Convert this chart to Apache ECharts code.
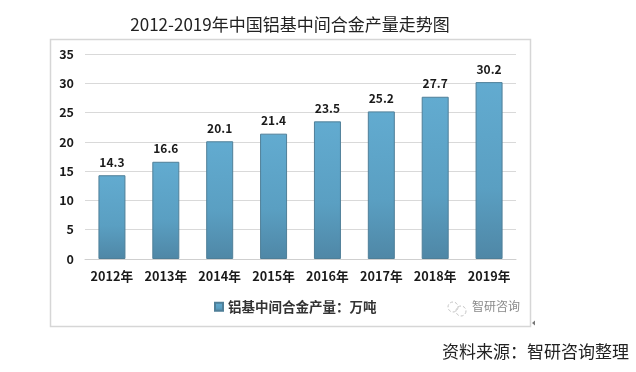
<!DOCTYPE html>
<html><head><meta charset="utf-8">
<style>html,body{margin:0;padding:0;background:#fff}#c{width:636px;height:372px}</style>
<script src="https://cdn.jsdelivr.net/npm/echarts@6/dist/echarts.min.js"></script>
</head><body><div id="c"></div>
<script>
const categories=['2012年','2013年','2014年','2015年','2016年','2017年','2018年','2019年'];
const values=[14.3,16.6,20.1,21.4,23.5,25.2,27.7,30.2];
const yTicks={min:0,max:35,interval:5};
const seriesName='铝基中间合金产量：万吨';
const titleText='2012-2019年中国铝基中间合金产量走势图';
const sourceText='资料来源：智研咨询整理';
const watermarkText='智研咨询';
const FONT='"Noto Sans CJK SC","DejaVu Sans",sans-serif';
const chart=echarts.init(document.getElementById('c'),null,{renderer:'canvas'});
chart.setOption({
 animation:false,backgroundColor:'#fff',
 title:[{text:titleText,left:285,top:11,textAlign:'center',textStyle:{fontFamily:FONT,fontSize:17,fontWeight:'normal',color:'#222'}},
        {text:sourceText,left:437,top:338,textStyle:{fontFamily:FONT,fontSize:17,fontWeight:'normal',color:'#222'}}],
 graphic:[
  {type:'rect',z:-1,shape:{x:50.5,y:39.5,width:480,height:287},style:{fill:'#fff',stroke:'#d6d6d6',lineWidth:1.5}},
  {type:'text',left:472,top:300,style:{text:watermarkText,fontFamily:FONT,fontSize:12,fill:'#8a8a8a'}},
  {type:'circle',shape:{cx:453,cy:307,r:5},style:{fill:'none',stroke:'#c4c4c4',lineWidth:1,lineDash:[3,2]}},
  {type:'circle',shape:{cx:461,cy:311,r:5},style:{fill:'none',stroke:'#c4c4c4',lineWidth:1,lineDash:[3,2]}},
  {type:'polygon',shape:{points:[[532,323],[535,320.5],[535,325.5]]},style:{fill:'#777'}}
 ],
 legend:{data:[seriesName],left:209,top:295,itemWidth:8,itemHeight:8,itemGap:4,icon:'rect',
   textStyle:{fontFamily:FONT,fontSize:13.5,fontWeight:'bold',color:'#333'}},
 grid:{left:85,top:54,width:431,height:205},
 xAxis:{type:'category',data:categories,
   axisLine:{lineStyle:{color:'#cfcfcf',width:1}},axisTick:{show:false},
   axisLabel:{interval:0,margin:11,fontFamily:FONT,fontSize:12.7,fontWeight:'bold',color:'#1a1a1a'}},
 yAxis:{type:'value',min:yTicks.min,max:yTicks.max,interval:yTicks.interval,
   axisLine:{show:false},axisTick:{show:false},
   splitLine:{lineStyle:{color:'#d9d9d9',width:1}},
   axisLabel:{margin:11,fontFamily:FONT,fontSize:12.5,fontWeight:'bold',color:'#1a1a1a'}},
 series:[{name:seriesName,type:'bar',data:values,barWidth:27,
   itemStyle:{color:new echarts.graphic.LinearGradient(0,0,0,1,[{offset:0,color:'#62abd0'},{offset:.6,color:'#5a9fc2'},{offset:1,color:'#4f87a6'}]),
     borderColor:'#4f7f98',borderWidth:1},
   label:{show:true,position:'top',distance:7,fontFamily:FONT,fontSize:12,fontWeight:'bold',color:'#1a1a1a',formatter:p=>p.value.toFixed(1)}}]
});
</script></body></html>
